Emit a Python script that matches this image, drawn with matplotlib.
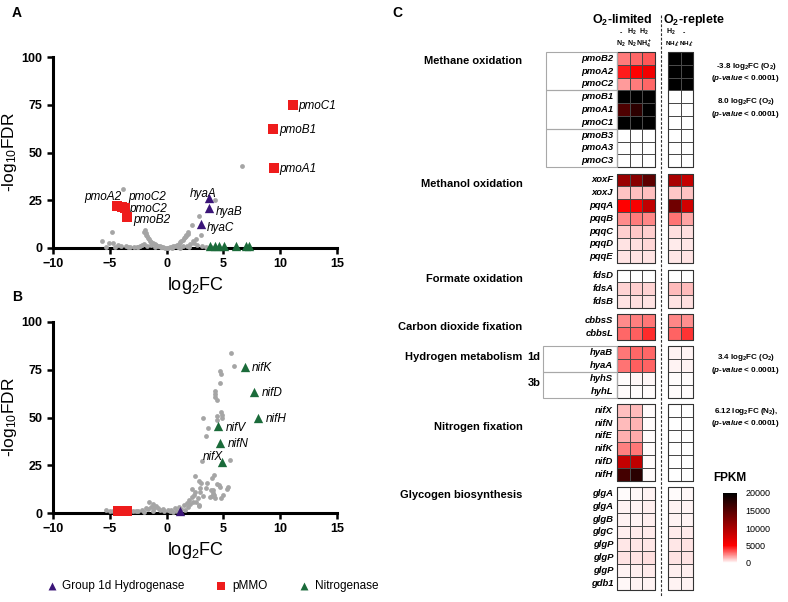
import matplotlib.pyplot as plt
import numpy as np
from matplotlib.colors import LinearSegmentedColormap, Normalize
from matplotlib.cm import ScalarMappable
from matplotlib.patches import Rectangle

plt.rcParams['font.family'] = ['Liberation Sans', 'DejaVu Sans']
plt.rcParams['mathtext.default'] = 'regular'
plt.rcParams['mathtext.fontset'] = 'custom'
plt.rcParams['mathtext.it'] = 'Liberation Sans:italic:bold'

# ---------------- panel A : volcano, O2 ----------------
a_gray = [(6.6, 43), (-3.8, 31), (4.3, 25), (-4.8, 8.5), (2.2, 12), (2.85, 17), (3.0, 6.8),
          (-5.7, 3.7), (-5.1, 2.8), (-4.7, 2.4), (-4.3, 1.7), (-4.0, 1.3), (-3.6, 0.9), (-3.2, 0.6),
          (-2.9, 0.5), (-2.6, 0.6), (-2.3, 0.8), (-1.9, 9.4), (-1.85, 7.8), (-1.75, 6.5), (-1.65, 5.4),
          (-1.55, 4.6), (-1.45, 3.9), (-1.35, 3.3), (-1.2, 2.6), (-1.05, 2.0), (-0.9, 1.5), (-0.75, 1.1),
          (-0.6, 0.8), (-0.45, 0.5), (-0.3, 0.3), (-0.15, 0.1), (0.0, 0.0), (0.15, 0.1), (0.3, 0.3),
          (0.45, 0.6), (0.6, 0.9), (0.75, 1.3), (0.9, 1.8), (1.05, 2.3), (1.2, 2.9), (1.3, 3.5),
          (1.45, 4.2), (1.55, 5.0), (1.65, 5.9), (1.75, 6.9), (1.85, 8.5), (-2.2, 1.5), (-2.0, 2.2),
          (-1.7, 1.0), (-1.4, 1.8), (-1.0, 0.6), (-0.5, 0.3), (0.5, 0.2), (1.0, 0.5), (1.4, 0.8),
          (1.8, 1.2), (2.1, 1.9), (2.4, 2.6), (2.7, 1.4), (3.1, 0.9), (3.5, 0.6), (3.9, 0.4),
          (4.3, 0.3), (2.3, 3.8), (2.6, 4.6), (-2.5, 0.3), (-3.4, 0.4), (2.0, 0.7), (1.2, 0.2),
          (-1.95, 8.6), (-1.8, 7.0), (1.7, 6.3), (1.9, 7.4), (-5.3, 0.6), (-4.5, 0.4)]
a_pmo_x = [11.1, 9.4, 9.45, -4.4, -3.96, -3.67, -3.52]
a_pmo_y = [74.9, 62.3, 41.7, 22.1, 21.6, 20.9, 16.0]
a_pmo_labels = ['pmoC1', 'pmoB1', 'pmoA1', 'pmoA2', 'pmoC2', 'pmoC2', 'pmoB2']
a_hya_x = [3.75, 3.7, 3.0]
a_hya_y = [26.0, 20.8, 12.6]
a_hya_labels = ['hyaA', 'hyaB', 'hyaC']
a_nif_x = [3.8, 4.3, 4.6, 5.05, 6.1, 7.0, 7.25]
a_nif_y = [0.8, 0.8, 0.8, 0.8, 0.8, 0.8, 0.8]

# ---------------- panel B : volcano, N2 ----------------
b_gray = [(5.7, 84), (5.96, 77), (4.67, 74.5), (4.78, 72.8), (4.72, 68.2), (4.25, 64), (4.3, 62.5),
          (4.3, 60.5), (4.4, 59), (4.78, 53), (4.9, 51.5), (4.87, 50), (3.2, 49.6), (4.4, 50.8),
          (4.4, 48.6), (3.67, 44.7), (3.43, 40.3), (5.58, 27.7), (3.14, 27.4), (2.5, 19.4), (4.2, 19.9),
          (4.0, 18.5), (3.0, 15.5), (2.85, 16.5), (3.6, 15.5), (4.45, 15), (4.7, 13.7), (5.3, 12.8),
          (4.1, 12), (3.9, 12.2), (4.1, 10.5), (4.03, 8.7), (4.28, 7.8), (4.98, 9.6), (2.26, 12.8),
          (2.5, 11), (2.4, 9.4), (2.2, 8.5), (2.75, 7.6), (2.0, 6.7), (2.34, 5.8), (2.86, 4.1),
          (1.77, 5), (1.57, 4.2), (1.92, 3.3), (-1.53, 5.9), (-1.24, 4.7), (-0.95, 3.7), (-1.8, 2.5),
          (-2.2, 1.6), (-0.8, 2.5), (-0.36, 2), (0.1, 1.6), (0.7, 2.5), (0.4, 1.6), (-5.3, 1.5),
          (-5.0, 1.2), (-4.7, 1.0), (-3.0, 0.8), (-2.7, 1.0), (-2.5, 1.3), (-1.6, 2.0), (-1.4, 3.0),
          (-1.1, 2.8), (-0.6, 1.5), (-0.2, 1.0), (0.3, 0.8), (0.9, 1.2), (1.3, 2.0), (1.1, 3.3),
          (2.1, 4.5), (2.6, 6.0), (3.2, 9.0), (3.5, 13.0), (2.9, 11.0), (2.93, 13.3), (3.8, 8.5),
          (4.2, 9.4), (4.6, 14.7), (5.37, 13.5), (4.78, 7.7), (2.87, 3.7), (-2.0, 0.6), (-1.2, 1.2),
          (0.6, 0.5), (1.6, 1.5)]
b_pmo_x = [-4.3, -4.1, -3.9, -3.75, -3.6, -3.45]
b_pmo_y = [1.2, 1.2, 1.2, 1.2, 1.2, 1.2]
b_hya_x = [1.2]
b_hya_y = [0.8]
b_nif_x = [6.9, 7.7, 8.07, 4.5, 4.73, 4.85]
b_nif_y = [76.6, 63.5, 50.0, 45.5, 36.5, 26.9]
b_nif_labels = ['nifK', 'nifD', 'nifH', 'nifV', 'nifN', 'nifX']

# ---------------- panel C : FPKM heatmap ----------------
group_names = ['Methane oxidation', 'Methanol oxidation', 'Formate oxidation',
               'Carbon dioxide fixation', 'Hydrogen metabolism', 'Nitrogen fixation',
               'Glycogen biosynthesis']
group_sizes = [9, 7, 3, 2, 4, 6, 8]
genes = ['pmoB2', 'pmoA2', 'pmoC2', 'pmoB1', 'pmoA1', 'pmoC1', 'pmoB3', 'pmoA3', 'pmoC3',
         'xoxF', 'xoxJ', 'pqqA', 'pqqB', 'pqqC', 'pqqD', 'pqqE',
         'fdsD', 'fdsA', 'fdsB',
         'cbbsS', 'cbbsL',
         'hyaB', 'hyaA', 'hyhS', 'hyhL',
         'nifX', 'nifN', 'nifE', 'nifK', 'nifD', 'nifH',
         'glgA', 'glgA', 'glgB', 'glgC', 'glgP', 'glgP', 'glgP', 'gdb1']
limited_cond1 = ['-', 'H$_2$', 'H$_2$']
limited_cond2 = ['N$_2$', 'N$_2$', 'NH$_4^+$']
replete_cond1 = ['H$_2$', '-']
replete_cond2 = ['NH$_4^+$', 'NH$_4^+$']
fpkm_limited = [[2600, 3000, 3300], [4500, 5000, 5800], [2000, 2600, 3000],
                [20000, 20000, 20000], [15400, 17300, 20000], [20000, 20000, 20000],
                [0, 0, 0], [0, 0, 0], [0, 0, 0],
                [11000, 12000, 14500], [1200, 1300, 1300], [5000, 5500, 8700], [2300, 2600, 2400],
                [1000, 1100, 1000], [600, 700, 800], [600, 600, 600],
                [50, 50, 50], [900, 1000, 900], [600, 700, 600],
                [2300, 2500, 2700], [3000, 3200, 4200],
                [2700, 3000, 3000], [2800, 3200, 3100], [150, 200, 200], [100, 150, 150],
                [1300, 1400, 100], [1400, 1500, 100], [1600, 1700, 100], [2500, 2700, 100],
                [8500, 8800, 100], [16000, 17500, 100],
                [100, 200, 250], [250, 300, 350], [250, 300, 350], [350, 400, 450],
                [500, 500, 500], [600, 600, 650], [300, 350, 400], [200, 250, 300]]
fpkm_replete = [[20000, 20000], [20000, 20000], [20000, 20000],
                [0, 0], [0, 0], [0, 0], [0, 0], [0, 0], [0, 0],
                [10000, 8500], [1100, 1200], [13400, 7700], [2800, 1800],
                [700, 700], [400, 500], [500, 600],
                [50, 50], [1400, 1400], [600, 700],
                [2400, 2200], [3100, 4000],
                [300, 300], [300, 300], [150, 150], [100, 100],
                [50, 50], [50, 50], [50, 50], [50, 50], [50, 50], [50, 50],
                [150, 200], [250, 300], [250, 300], [400, 450],
                [500, 550], [550, 600], [350, 350], [250, 250]]
fc_notes = ['-3.8 log$_2$FC (O$_2$)', '8.0 log$_2$FC (O$_2$)',
            '3.4 log$_2$FC (O$_2$)', '6.12 log$_2$FC (N$_2$),']
fc_rows = [1.15, 3.9, 23.9, 28.1]
cbar_ticks = [0, 5000, 10000, 15000, 20000]

RED = '#ee1c1c'
PURPLE = '#3b1578'
GREEN = '#1b6b3a'
GRAY = '#a5a5a5'

fig = plt.figure(figsize=(7.88, 6.02), dpi=100)


def style_volcano(ax):
    ax.set_xlim(-10, 15)
    ax.set_ylim(0, 100)
    ax.set_xticks([-10, -5, 0, 5, 10, 15])
    ax.set_yticks([0, 25, 50, 75, 100])
    for s in ['top', 'right']:
        ax.spines[s].set_visible(False)
    for s in ['left', 'bottom']:
        ax.spines[s].set_linewidth(2.2)
    ax.tick_params(width=1.8, length=4, labelsize=9)
    for lbl in ax.get_xticklabels() + ax.get_yticklabels():
        lbl.set_fontweight('bold')
    ax.set_xlabel('log$_{2}$FC', fontsize=13, labelpad=3)
    ax.set_ylabel('-log$_{10}$FDR', fontsize=12.5)
    ax.yaxis.set_label_coords(-0.118, 0.5)


# panel A
axA = fig.add_axes([53 / 788, 1 - 248 / 602, 284 / 788, 191 / 602])
gx, gy = zip(*a_gray)
axA.scatter(gx, gy, s=12, c=GRAY, linewidths=0, zorder=3, clip_on=False)
axA.scatter(a_pmo_x, a_pmo_y, s=55, marker='s', c=RED, linewidths=0, zorder=4, clip_on=False)
axA.scatter(a_hya_x, a_hya_y, s=45, marker='^', c=PURPLE, linewidths=0, zorder=4, clip_on=False)
axA.scatter(a_nif_x, a_nif_y, s=45, marker='^', c=GREEN, linewidths=0, zorder=4, clip_on=False)
pmo_lab_pos = [(11.6, 74.5, 'left'), (9.9, 62, 'left'), (9.9, 41.2, 'left'), (-4.0, 26.5, 'right'),
               (-3.4, 26.5, 'left'), (-3.3, 20.4, 'left'), (-2.95, 14.8, 'left')]
for (tx, ty, ha), name in zip(pmo_lab_pos, a_pmo_labels):
    axA.text(tx, ty, name, fontsize=8.5, style='italic', ha=ha, va='center')
hya_lab_pos = [(2.05, 28.3), (4.35, 19.0), (3.5, 10.6)]
for (tx, ty), name in zip(hya_lab_pos, a_hya_labels):
    axA.text(tx, ty, name, fontsize=8.5, style='italic', ha='left', va='center')
style_volcano(axA)

# panel B
axB = fig.add_axes([53 / 788, 1 - 513 / 602, 284 / 788, 191 / 602])
gx, gy = zip(*b_gray)
axB.scatter(gx, gy, s=12, c=GRAY, linewidths=0, zorder=3, clip_on=False)
h_pmo = axB.scatter(b_pmo_x, b_pmo_y, s=55, marker='s', c=RED, linewidths=0, zorder=4, clip_on=False)
h_hya = axB.scatter(b_hya_x, b_hya_y, s=45, marker='^', c=PURPLE, linewidths=0, zorder=4, clip_on=False)
h_nif = axB.scatter(b_nif_x, b_nif_y, s=45, marker='^', c=GREEN, linewidths=0, zorder=4, clip_on=False)
nif_lab_pos = [(7.5, 75.8, 'left'), (8.37, 63, 'left'), (8.7, 49.4, 'left'),
               (5.17, 44.7, 'left'), (5.37, 36.1, 'left'), (4.95, 29.5, 'right')]
for (tx, ty, ha), name in zip(nif_lab_pos, b_nif_labels):
    axB.text(tx, ty, name, fontsize=8.5, style='italic', ha=ha, va='center')
style_volcano(axB)

fig.legend([h_hya, h_pmo, h_nif], ['Group 1d Hydrogenase', 'pMMO', 'Nitrogenase'],
           loc='center', bbox_to_anchor=(212 / 788, 1 - 586 / 602), ncol=3, frameon=False,
           fontsize=8.5, handletextpad=0.4, columnspacing=2.6, handlelength=1.0,
           scatterpoints=1, markerscale=0.85)

fig.text(12 / 788, 1 - 13 / 602, 'A', fontsize=10, fontweight='bold', va='center')
fig.text(12 / 788, 1 - 297 / 602, 'B', fontsize=10, fontweight='bold', va='center')
fig.text(392 / 788, 1 - 13 / 602, 'C', fontsize=10, fontweight='bold', va='center')

# panel C (data units: one cell = 12.7 x 12.8 px, origin at the top-left cell)
axC = fig.add_axes([330 / 788, 0, 458 / 788, 1])
axC.set_xlim((330 - 617) / 12.7, (788 - 617) / 12.7)
axC.set_ylim((602 - 52) / 12.8, (0 - 52) / 12.8)
axC.axis('off')

cmap = LinearSegmentedColormap.from_list('fpkm', [(0, 'white'), (0.25, '#ff0000'), (1, 'black')])
norm = Normalize(0, 20000)
lim = np.array(fpkm_limited, dtype=float)
rep = np.array(fpkm_replete, dtype=float)
gap = 0.5
rep_x0 = 4.0
EDGE = '#4a4a4a'

starts = []
row = 0
y0 = 0.0
for g, n in enumerate(group_sizes):
    starts.append(y0)
    yedges = y0 + np.arange(n + 1)
    axC.pcolormesh(np.arange(4), yedges, lim[row:row + n], cmap=cmap, norm=norm,
                   edgecolors=EDGE, linewidth=0.55)
    axC.pcolormesh(rep_x0 + np.arange(3), yedges, rep[row:row + n], cmap=cmap, norm=norm,
                   edgecolors=EDGE, linewidth=0.55)
    axC.add_patch(Rectangle((0, y0), 3, n, fill=False, ec='#333333', lw=0.8))
    axC.add_patch(Rectangle((rep_x0, y0), 2, n, fill=False, ec='#333333', lw=0.8))
    for i in range(n):
        axC.text(-0.3, y0 + i + 0.5, genes[row + i], fontsize=6.8, fontweight='bold',
                 style='italic', ha='right', va='center')
    row += n
    y0 += n + gap

# label boxes around the pmo operons and hydrogenase groups
for k in range(3):
    axC.add_patch(Rectangle((-5.6, starts[0] + 3 * k), 5.6, 3, fill=False, ec='#a8a8a8', lw=0.8))
for k in range(2):
    axC.add_patch(Rectangle((-5.8, starts[4] + 2 * k), 5.8, 2, fill=False, ec='#a8a8a8', lw=0.8))

group_label_offset = [0.7, 0.8, 0.7, 1.0, 0.85, 1.8, 0.6]
for name, s, off in zip(group_names, starts, group_label_offset):
    axC.text(-7.45, s + off, name, fontsize=8, fontweight='bold', ha='right', va='center')
axC.text(-6.05, starts[4] + 0.85, '1d', fontsize=8, fontweight='bold', ha='right', va='center')
axC.text(-6.05, starts[4] + 2.85, '3b', fontsize=8, fontweight='bold', ha='right', va='center')

# column headers
axC.text(0.4, -2.5, 'O$_2$-limited', fontsize=9, fontweight='bold', ha='center', va='center')
axC.text(3.6, -2.5, 'O$_2$-replete', fontsize=9, fontweight='bold', ha='left', va='center')
lim_hdr_x = [0.3, 1.15, 2.1]
rep_hdr_x = [4.35, 5.45]
for j in range(3):
    axC.text(lim_hdr_x[j], -1.55, limited_cond1[j], fontsize=5, fontweight='bold', ha='center', va='center')
    axC.text(lim_hdr_x[j], -0.6, limited_cond2[j], fontsize=5, fontweight='bold', ha='center', va='center')
for j in range(2):
    axC.text(rep_hdr_x[j] - 0.15, -1.55, replete_cond1[j], fontsize=5, fontweight='bold', ha='center', va='center')
    axC.text(rep_hdr_x[j], -0.6, replete_cond2[j], fontsize=4.6, fontweight='bold', ha='center', va='center')

axC.plot([3.46, 3.46], [-2.9, 42.6], ls=(0, (2.5, 1.5)), color='#333333', lw=0.8)

for note, r in zip(fc_notes, fc_rows):
    axC.text(10.2, r, note, fontsize=5.8, fontweight='bold', ha='center', va='center')
    axC.text(10.1, r + 0.95, '($\\mathit{p}$-$\\mathit{value}$ < 0.0001)', fontsize=5.8,
             fontweight='bold', ha='center', va='center')

# colour bar
fig.text(730 / 788, 1 - 478 / 602, 'FPKM', fontsize=8.5, fontweight='bold', ha='center', va='center')
cax = fig.add_axes([723 / 788, 1 - 563 / 602, 14 / 788, 70 / 602])
cb = fig.colorbar(ScalarMappable(norm=norm, cmap=cmap), cax=cax)
cb.outline.set_visible(False)
cb.set_ticks(cbar_ticks)
cax.tick_params(length=0, labelsize=6.5, pad=6)

fig.savefig('out.png', dpi=100)
